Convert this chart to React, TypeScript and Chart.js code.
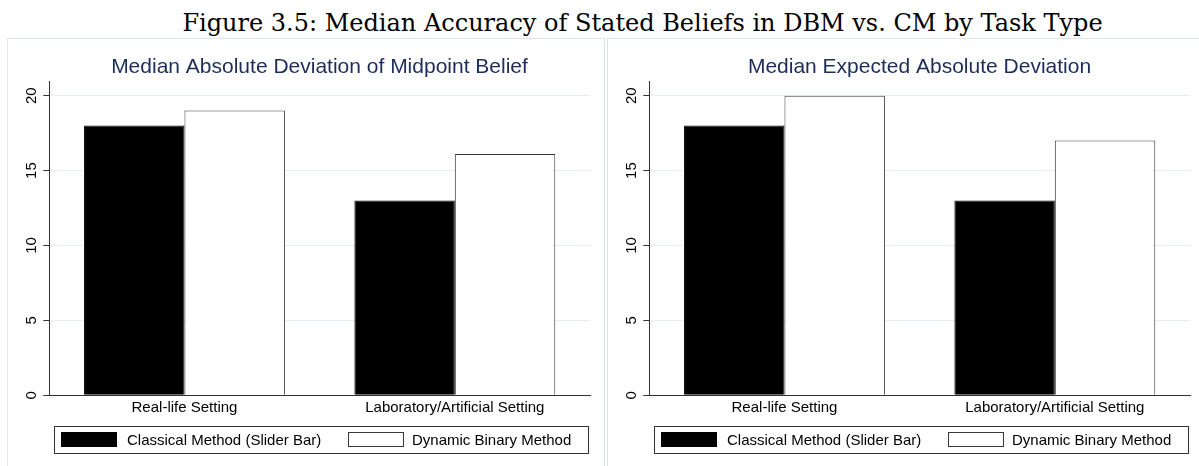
import React, { useEffect, useRef } from "react";
import { Chart, registerables } from "chart.js";

Chart.register(...registerables);

const figureTitle =
  "Figure 3.5: Median Accuracy of Stated Beliefs in DBM vs. CM by Task Type";
const categories = ["Real-life Setting", "Laboratory/Artificial Setting"];
const seriesNames = ["Classical Method (Slider Bar)", "Dynamic Binary Method"];
const yTickValues = [0, 5, 10, 15, 20];
const yAxisMax = 20.93;

const leftTitle = "Median Absolute Deviation of Midpoint Belief";
const leftClassical = [18, 13];
const leftDynamic = [19, 16.1];

const rightTitle = "Median Expected Absolute Deviation";
const rightClassical = [18, 13];
const rightDynamic = [20, 17];

const SANS = "'Liberation Sans', Arial, Helvetica, sans-serif";
const CANVAS_W = 598;
const CANVAS_H = 430;

const panelPlugin = {
  id: "panelDecor",
  beforeDraw(chart: any) {
    const ctx = chart.ctx;
    ctx.save();
    ctx.fillStyle = "#ffffff";
    ctx.fillRect(0, 0, chart.width, chart.height);
    ctx.strokeStyle = "#dde6eb";
    ctx.lineWidth = 1;
    ctx.strokeRect(0.5, 0.5, chart.width - 1, chart.height + 20);
    ctx.restore();
  },
  afterDraw(chart: any, _args: any, opts: any) {
    const ctx = chart.ctx;
    ctx.save();
    // panel title
    ctx.fillStyle = "#1c2d5c";
    ctx.font = `21px ${SANS}`;
    ctx.textAlign = "center";
    ctx.textBaseline = "alphabetic";
    ctx.fillText(opts.title, 312.5, 35);

    // rotated y tick labels
    const ys = chart.scales.y;
    ctx.fillStyle = "#000";
    ctx.font = `15px ${SANS}`;
    ys.ticks.forEach((t: any) => {
      const py = ys.getPixelForValue(t.value);
      ctx.save();
      ctx.translate(25, py);
      ctx.rotate(-Math.PI / 2);
      ctx.textAlign = "center";
      ctx.textBaseline = "middle";
      ctx.fillText(String(t.value), 0, 0);
      ctx.restore();
    });

    // legend
    const ds = chart.data.datasets;
    ctx.strokeStyle = "#333";
    ctx.lineWidth = 1;
    ctx.strokeRect(47.5, 388.5, 534, 27);
    const items = [
      { sx: 54, tx: 120 },
      { sx: 341.5, tx: 405 },
    ];
    ds.forEach((d: any, i: number) => {
      const it = items[i];
      ctx.fillStyle = d.backgroundColor;
      ctx.fillRect(it.sx, 394, 56, 15);
      ctx.strokeStyle = d.borderColor;
      ctx.strokeRect(Math.floor(it.sx) + 0.5, 394.5, 55, 14);
      ctx.fillStyle = "#000";
      ctx.font = `15px ${SANS}`;
      ctx.textAlign = "left";
      ctx.textBaseline = "alphabetic";
      ctx.fillText(d.label, it.tx, 407);
    });
    ctx.restore();
  },
};

function makeConfig(title: string, classical: number[], dynamic: number[]): any {
  return {
    type: "bar",
    data: {
      labels: categories,
      datasets: [
        {
          label: seriesNames[0],
          data: classical,
          backgroundColor: "#000000",
          borderColor: "#000000",
          borderWidth: 1,
        },
        {
          label: seriesNames[1],
          data: dynamic,
          backgroundColor: "#ffffff",
          borderColor: "#3a3a3a",
          borderWidth: 1,
        },
      ],
    },
    options: {
      responsive: false,
      animation: false,
      layout: { padding: { left: 0, right: 15, top: 43.7, bottom: 52.7 } },
      datasets: { bar: { barPercentage: 1, categoryPercentage: 0.743 } },
      plugins: {
        legend: { display: false },
        title: { display: false },
        tooltip: { enabled: false },
        panelDecor: { title },
      },
      scales: {
        x: {
          type: "category",
          offset: true,
          grid: { display: false, drawTicks: false },
          border: { display: true, color: "#333", width: 1 },
          ticks: {
            color: "#000",
            font: { family: SANS, size: 15 },
            padding: 4,
            maxRotation: 0,
            minRotation: 0,
            autoSkip: false,
          },
          afterFit: (s: any) => {
            s.height = 20;
          },
        },
        y: {
          min: 0,
          max: yAxisMax,
          grid: {
            color: "#e8eef1",
            tickColor: "#333",
            tickLength: 6,
            drawTicks: true,
          },
          border: { display: true, color: "#333", width: 1 },
          ticks: { display: false },
          afterBuildTicks: (s: any) => {
            s.ticks = yTickValues.map((v) => ({ value: v }));
          },
          afterFit: (s: any) => {
            s.width = 42.3;
          },
        },
      },
    },
    plugins: [panelPlugin],
  };
}

function Panel(props: { left: number; title: string; classical: number[]; dynamic: number[] }) {
  const ref = useRef<HTMLCanvasElement | null>(null);
  useEffect(() => {
    if (!ref.current) return;
    const chart = new Chart(ref.current, makeConfig(props.title, props.classical, props.dynamic));
    return () => chart.destroy();
  }, []);
  return (
    <canvas
      ref={ref}
      width={CANVAS_W}
      height={CANVAS_H}
      style={{ position: "absolute", left: props.left, top: 38, width: CANVAS_W, height: CANVAS_H }}
    />
  );
}

export default function App() {
  return (
    <div
      style={{
        position: "fixed",
        left: 0,
        top: 0,
        width: 1199,
        height: 466,
        overflow: "hidden",
        background: "#fff",
      }}
    >
      <div
        style={{
          position: "absolute",
          left: 0,
          top: 11,
          width: 1285,
          textAlign: "center",
          fontFamily: "'DejaVu Serif', serif",
          fontSize: 24,
          lineHeight: "24px",
          whiteSpace: "nowrap",
          color: "#000",
        }}
      >
        {figureTitle}
      </div>
      <Panel left={7} title={leftTitle} classical={leftClassical} dynamic={leftDynamic} />
      <Panel left={607} title={rightTitle} classical={rightClassical} dynamic={rightDynamic} />
    </div>
  );
}
